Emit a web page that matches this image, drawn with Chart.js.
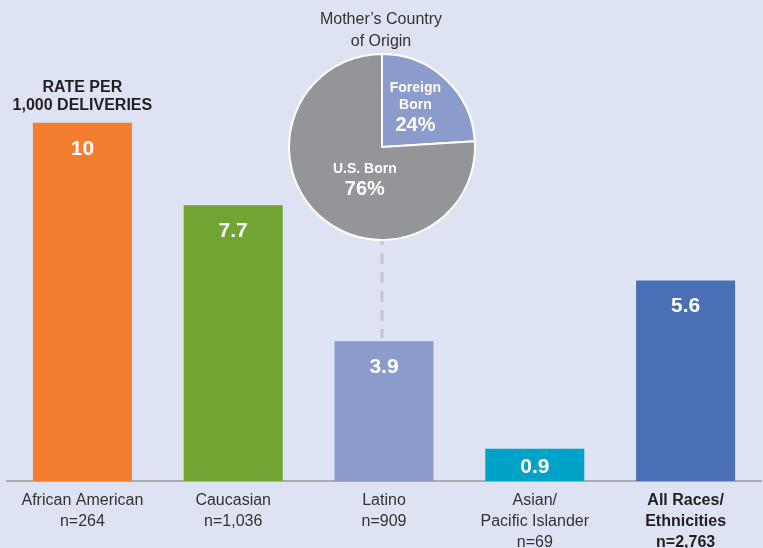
<!DOCTYPE html>
<html>
<head>
<meta charset="utf-8">
<script src="https://cdn.jsdelivr.net/npm/chart.js@4.4.1/dist/chart.umd.min.js"></script>
<style>
  html, body { margin: 0; padding: 0; background: #dde3f2; }
  #wrap { position: relative; width: 763px; height: 548px; }
  #barChart { position: absolute; left: 0; top: 0; }
  #pieChart { position: absolute; }
</style>
</head>
<body>
<div id="wrap">
  <canvas id="barChart" width="763" height="548"></canvas>
  <canvas id="pieChart" width="188" height="188"></canvas>
</div>
<script>
// rate per 1,000 deliveries by race / ethnicity
const categories = [
  ["African American", "n=264"],
  ["Caucasian", "n=1,036"],
  ["Latino", "n=909"],
  ["Asian/", "Pacific Islander", "n=69"],
  ["All Races/", "Ethnicities", "n=2,763"]
];
const rates = [10, 7.7, 3.9, 0.9, 5.6];

// mother's country of origin (Latino)
const originLabels = [["Foreign", "Born"], ["U.S. Born"]];
const originShares = [24, 76];

const barColors = ["#f47d30", "#72a431", "#8a9bcc", "#00a3c8", "#4a6fb5"];
const pieColors = ["#8a9bcc", "#949598"];
const sans = "'Liberation Sans', Arial, sans-serif";

// where the pie sits over the bar chart
const pieLeft = 288, pieTop = 53, pieSize = 188;
const pieEl = document.getElementById("pieChart");
pieEl.style.left = pieLeft + "px";
pieEl.style.top = pieTop + "px";

const barLabels = {
  id: "barLabels",
  afterDatasetsDraw(chart) {
    const ctx = chart.ctx;
    const meta = chart.getDatasetMeta(0);
    ctx.save();
    ctx.fillStyle = "#ffffff";
    ctx.font = "bold 21px " + sans;
    ctx.textAlign = "center";
    ctx.textBaseline = "alphabetic";
    meta.data.forEach((bar, i) => {
      const h = bar.base - bar.y;
      const y = h > 60 ? bar.y + 32 : (bar.y + bar.base) / 2 + 8;
      ctx.fillText(String(rates[i]), bar.x, y);
    });

    // caption above the first bar
    const first = meta.data[0];
    ctx.fillStyle = "#231f20";
    ctx.font = "bold 16px " + sans;
    ctx.fillText("RATE PER", first.x, 92);
    ctx.fillText("1,000 DELIVERIES", first.x, 110);

    // pie title and connector down to the Latino bar
    const latino = meta.data[2];
    const cx = pieLeft + pieSize / 2;
    ctx.fillStyle = "#333333";
    ctx.font = "16px " + sans;
    ctx.fillText("Mother\u2019s Country", cx - 1, 24);
    ctx.fillText("of Origin", cx - 1, 46);

    ctx.strokeStyle = "#c3c6cd";
    ctx.lineWidth = 3;
    ctx.setLineDash([11, 8]);
    ctx.lineDashOffset = 6;
    ctx.beginPath();
    ctx.moveTo(cx, pieTop + pieSize - 1);
    ctx.lineTo(cx, latino.y - 3);
    ctx.stroke();
    ctx.restore();
  }
};

new Chart(document.getElementById("barChart").getContext("2d"), {
  type: "bar",
  data: {
    labels: categories,
    datasets: [{
      data: rates,
      backgroundColor: barColors,
      borderWidth: 0,
      barPercentage: 0.6565,
      categoryPercentage: 1
    }]
  },
  options: {
    responsive: false,
    animation: false,
    layout: { padding: { left: 7, right: 2, top: 0, bottom: 0 } },
    plugins: { legend: { display: false }, tooltip: { enabled: false } },
    scales: {
      y: { display: false, min: 0, max: 13.43 },
      x: {
        grid: { display: false, drawTicks: false },
        border: { display: true, color: "#a9abb0", width: 2 },
        afterFit(scale) { scale.height = 67; },
        ticks: {
          autoSkip: false,
          maxRotation: 0,
          padding: 9,
          color: (c) => c.index === 4 ? "#231f20" : "#333333",
          font: (c) => ({
            family: sans,
            size: 16,
            weight: c.index === 4 ? "bold" : "normal",
            lineHeight: 1.32
          })
        }
      }
    }
  },
  plugins: [barLabels]
});

const pieLabels = {
  id: "pieLabels",
  afterDatasetsDraw(chart) {
    const ctx = chart.ctx;
    const meta = chart.getDatasetMeta(0);
    const reach = [0.565, 0.39];
    const turn = [-0.065, -0.26];
    ctx.save();
    ctx.fillStyle = "#ffffff";
    ctx.textAlign = "center";
    ctx.textBaseline = "alphabetic";
    meta.data.forEach((arc, i) => {
      const mid = (arc.startAngle + arc.endAngle) / 2 + turn[i];
      const r = arc.outerRadius * reach[i];
      const cx = arc.x + Math.cos(mid) * r;
      const cy = arc.y + Math.sin(mid) * r;
      const lines = originLabels[i];
      const total = 10 + (lines.length - 1) * 17 + 22;
      let y = cy + 10 - total / 2;
      ctx.font = "bold 14px " + sans;
      lines.forEach((t, k) => {
        ctx.fillText(t, cx, y);
        if (k < lines.length - 1) y += 17;
      });
      ctx.font = "bold 20px " + sans;
      ctx.fillText(originShares[i] + "%", cx, y + 22);
    });
    ctx.restore();
  }
};

new Chart(pieEl.getContext("2d"), {
  type: "pie",
  data: {
    labels: originLabels.map((l) => l.join(" ")),
    datasets: [{
      data: originShares,
      backgroundColor: pieColors,
      borderColor: "#ffffff",
      borderWidth: 2,
      hoverOffset: 0
    }]
  },
  options: {
    responsive: false,
    animation: false,
    plugins: { legend: { display: false }, tooltip: { enabled: false } }
  },
  plugins: [pieLabels]
});
</script>
</body>
</html>
